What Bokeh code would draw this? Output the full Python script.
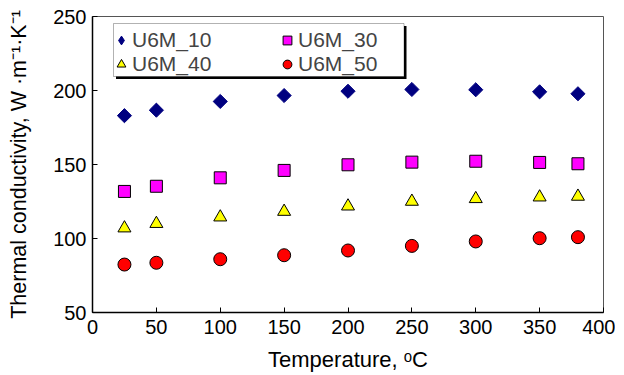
import math
from bokeh.plotting import figure
from bokeh.models import Legend, LegendItem, Range1d, FixedTicker, BoxAnnotation, CDSView, IndexFilter, ColumnDataSource
from bokeh.embed import file_html
from bokeh.resources import INLINE

temps = [25, 50, 100, 150, 200, 250, 300, 350, 380]
u6m_10 = [183.0, 186.7, 192.6, 196.6, 199.5, 200.7, 200.5, 199.1, 197.8]
u6m_30 = [131.8, 135.3, 141.0, 146.0, 149.8, 151.6, 152.2, 151.4, 150.5]
u6m_40 = [107.0, 110.0, 114.4, 118.2, 121.8, 125.0, 126.8, 127.9, 128.4]
u6m_50 = [82.4, 83.6, 86.0, 88.7, 91.9, 95.0, 98.0, 100.2, 100.9]
x_ticks = [0, 50, 100, 150, 200, 250, 300, 350, 400]
y_ticks = [50, 100, 150, 200, 250]

FONT = "Liberation Sans"

p = figure(frame_width=511, frame_height=296, output_backend="svg", toolbar_location=None,
           x_range=Range1d(0, 400), y_range=Range1d(50, 250),
           min_border_left=92, min_border_right=12, min_border_top=16, min_border_bottom=40)

p.xgrid.visible = False
p.ygrid.visible = False
p.outline_line_color = "#555555"
p.outline_line_width = 1

for ax in (p.xaxis[0], p.yaxis[0]):
    ax.axis_line_color = "black"
    ax.axis_line_width = 1.5
    ax.major_tick_in = 5
    ax.major_tick_out = 0
    ax.major_tick_line_color = "black"
    ax.minor_tick_line_color = None
    ax.major_label_text_font = FONT
    ax.major_label_text_font_size = "20px"
    ax.major_label_text_color = "black"
    ax.axis_label_text_font = FONT
    ax.axis_label_text_font_style = "normal"
    ax.axis_label_text_color = "black"

p.xaxis[0].ticker = FixedTicker(ticks=x_ticks)
p.yaxis[0].ticker = FixedTicker(ticks=y_ticks)
p.xaxis[0].axis_label = "Temperature, \u1d52C"
p.yaxis[0].axis_label = "Thermal conductivity, W \u00b7m\u207b\u00b9\u00b7K\u207b\u00b9"
p.xaxis[0].axis_label_text_font_size = "22px"
p.yaxis[0].axis_label_text_font_size = "21.5px"
p.xaxis[0].major_label_standoff = 7
p.xaxis[0].axis_label_standoff = 10
p.yaxis[0].major_label_standoff = 6
p.yaxis[0].axis_label_standoff = 19

src10 = ColumnDataSource(data=dict(x=temps, y=u6m_10))
# key renderer for the legend diamond: one point, drawn underneath (and hidden by) the plotted marker
r10_key = p.scatter("x", "y", source=src10, view=CDSView(filter=IndexFilter(indices=[0])),
                    marker="diamond", size=10, fill_color="#000080", line_color="#000080")
r10 = p.scatter("x", "y", source=src10, marker="square", angle=math.pi / 4, size=10,
                fill_color="#000080", line_color="#000080")
r30 = p.scatter(temps, u6m_30, marker="square", size=12, fill_color="#FF00FF", line_color="black", line_width=1)
r40 = p.scatter(temps, u6m_40, marker="triangle", size=13, fill_color="#FFFF00", line_color="black", line_width=1)
r50 = p.scatter(temps, u6m_50, marker="circle", size=13, fill_color="#FF0000", line_color="black", line_width=1)

# legend frame with drop shadow (screen units relative to the frame)
shadow = BoxAnnotation(left=23.5, right=314, top=286.5, bottom=233.5,
                       left_units="screen", right_units="screen", top_units="screen", bottom_units="screen",
                       fill_color="black", fill_alpha=1, line_color=None, level="annotation")
box = BoxAnnotation(left=21, right=311.5, top=289, bottom=236,
                    left_units="screen", right_units="screen", top_units="screen", bottom_units="screen",
                    fill_color="white", fill_alpha=1, line_color="black", line_width=1, level="annotation")
p.add_layout(shadow)
p.add_layout(box)

common = dict(label_text_font=FONT, label_text_font_size="21px",
              label_height=24, glyph_width=22, glyph_height=24,
              label_standoff=0, spacing=0, padding=3, margin=0,
              border_line_color=None, background_fill_alpha=0)

leg_a = Legend(items=[LegendItem(label="U6M_10", renderers=[r10_key]),
                      LegendItem(label="U6M_40", renderers=[r40])],
               location=(18, 236), **common)
leg_b = Legend(items=[LegendItem(label="U6M_30", renderers=[r30]),
                      LegendItem(label="U6M_50", renderers=[r50])],
               location=(184, 236), **common)
p.add_layout(leg_a, "center")
p.add_layout(leg_b, "center")

open("out.html", "w").write(file_html(p, INLINE))
